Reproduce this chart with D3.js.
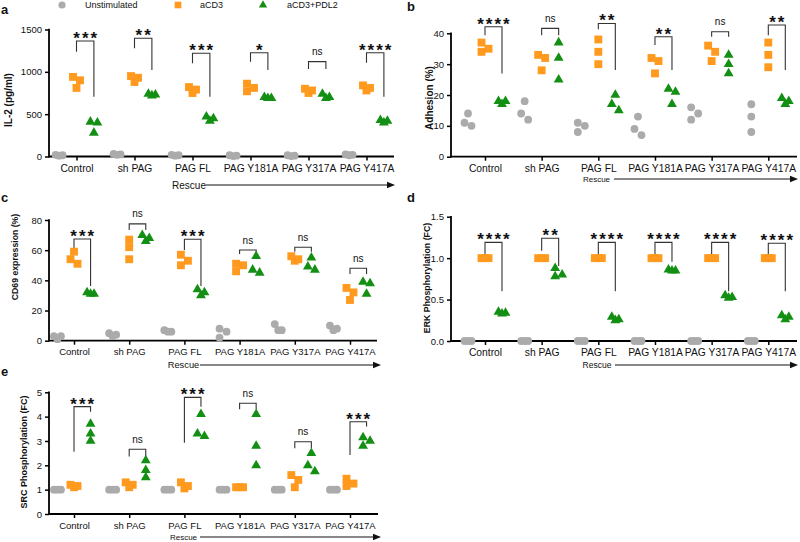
<!DOCTYPE html>
<html><head><meta charset="utf-8">
<script src="https://cdn.jsdelivr.net/npm/d3@7"></script>
<style>
body{margin:0;background:#fff}
svg{display:block}
text{font-family:"Liberation Sans",Arial,Helvetica,sans-serif;fill:#111}
</style></head>
<body><svg id="chart" width="800" height="542"></svg>
<script>
// ---------- data ----------
const categories = ["Control","sh PAG","PAG FL","PAG Y181A","PAG Y317A","PAG Y417A"];
const groups = ["Unstimulated","aCD3","aCD3+PDL2"];

// a: IL-2 (pg/ml)
const il2Unstim = [[15,10,20],[25,30,20],[15,10,20],[10,15,5],[10,5,15],[20,25,15]];
const il2ACD3   = [[940,900,810],[950,930,880],[820,790,750],[860,810,770],[800,780,750],[840,810,780]];
const il2PDL2   = [[410,400,280],[740,730,720],[470,450,420],[700,690,690],[740,700,690],[430,420,400]];
const il2Sig      = ["***","**","***","*","ns","****"];
const il2SigTop   = [1364,1396,1219,1226,1120,1226];
const il2SigLeft  = [1238,1278,1101,1120,1033,1108];
const il2SigRight = [706,1022,706,1022,1033,706];
const il2Ticks = [0,500,1000,1500];

// b: Adhesion (%)
const adhUnstim = [[14,10,11],[18,14,12],[11,10,8],[13,9,7],[16,14,12],[17,13,8]];
const adhACD3   = [[37,35,34],[33,32,28],[38,34,30],[32,31,27],[36,34,31],[37,33,29]];
const adhPDL2   = [[17,18,18],[37,32,25],[20,17,15],[22,21,17],[33,30,27],[19,18,17]];
const adhSig      = ["****","ns","**","**","ns","**"];
const adhSigTop   = [42.1,41.6,43.2,38.9,40.5,42.7];
const adhSigLeft  = [39.4,39.4,41.3,36.2,38.9,39.4];
const adhSigRight = [27.0,39.4,28.1,28.1,38.9,28.1];
const adhTicks = [0,10,20,30,40];

// c: CD69 expression (%)
const cd69Unstim = [[3,3,1],[5,4,3],[7,6,6],[8,6,2],[11,7,7],[10,8,7]];
const cd69ACD3   = [[59,54,51],[67,62,54],[57,53,50],[51,50,46],[56,54,53],[35,32,27]];
const cd69PDL2   = [[32,31,31],[70,68,66],[34,32,30],[56,47,45],[55,49,47],[39,38,31]];
const cd69Sig      = ["***","ns","***","ns","ns","ns"];
const cd69SigTop   = [67.4,77.4,67.2,60.1,61.9,48.0];
const cd69SigLeft  = [60.1,73.4,60.1,57.5,59.0,44.2];
const cd69SigRight = [36.3,73.4,36.3,57.5,59.0,44.2];
const cd69Ticks = [0,20,40,60,80];

// d: ERK Phosphorylation (FC)
const erkUnstim = [[0,0,0],[0,0,0],[0,0,0],[0,0,0],[0,0,0],[0,0,0]];
const erkACD3   = [[1,1,1],[1,1,1],[1,1,1],[1,1,1],[1,1,1],[1,1,1]];
const erkPDL2   = [[0.35,0.34,0.33],[0.88,0.80,0.78],[0.29,0.26,0.25],[0.86,0.85,0.85],[0.55,0.53,0.52],[0.31,0.29,0.26]];
const erkSig      = ["****","**","****","****","****","****"];
const erkSigTop   = [1.19,1.24,1.19,1.19,1.19,1.18];
const erkSigLeft  = [1.04,1.09,1.04,1.04,1.04,1.04];
const erkSigRight = [0.60,0.905,0.60,0.957,0.60,0.60];
const erkTicks = [0,0.5,1.0,1.5];

// e: SRC Phosphorylation (FC)
const srcUnstim = [[1,1,1],[1,1,1],[1,1,1],[1,1,1],[1,1,1],[1,1,1]];
const srcACD3   = [[1.2,1.15,1.1],[1.3,1.2,1.1],[1.3,1.15,1.05],[1.1,1.1,1.1],[1.6,1.4,1.1],[1.45,1.25,1.15]];
const srcPDL2   = [[3.7,3.3,3.0],[2.2,1.8,1.5],[4.1,3.3,3.2],[4.1,2.8,2.0],[2.5,2.0,1.75],[3.15,3.0,2.8]];
const srcSig      = ["***","ns","***","ns","ns","***"];
const srcSigTop   = [4.41,2.66,4.79,4.55,2.97,3.79];
const srcSigLeft  = [2.56,2.36,2.93,4.30,2.70,2.42];
const srcSigRight = [4.20,2.36,4.41,4.30,2.70,3.59];
const srcTicks = [0,1,2,3,4,5];

// ---------- styles / layout ----------
const colors = {"Unstimulated":"#ABABAB","aCD3":"#FF9A1E","aCD3+PDL2":"#138F13"};
const svg = d3.select("#chart");

const panels = [
  {letter:"a", lx:1, ly:14, x0:49, xEnd:394, t0:76.5, t1:366.5, yTop:29.5, yBot:156.5, ticks:il2Ticks, fmt:d3.format("d"),
   title:"IL-2 (pg/ml)", tx:8, ty:100, tfs:10, cfs:10.3, yfs:9.5,
   series:[il2Unstim,il2ACD3,il2PDL2], sig:il2Sig, top:il2SigTop, left:il2SigLeft, right:il2SigRight,
   rescue:{cx:189, y:185, fs:10, x1:206, x2:395}},
  {letter:"b", lx:407, ly:11, x0:451, xEnd:797, t0:485, t1:768.3, yTop:33.3, yBot:156.7, ticks:adhTicks, fmt:d3.format("d"),
   title:"Adhesion (%)", tx:429, ty:98, tfs:10, cfs:10.3, yfs:9.5,
   series:[adhUnstim,adhACD3,adhPDL2], sig:adhSig, top:adhSigTop, left:adhSigLeft, right:adhSigRight,
   rescue:{cx:596.5, y:179, fs:8, x1:614, x2:798}},
  {letter:"c", lx:1, ly:202, x0:49, xEnd:377, t0:74, t1:350, yTop:220, yBot:340.7, ticks:cd69Ticks, fmt:d3.format("d"),
   title:"CD69 expression (%)", tx:15, ty:257, tfs:8.7, cfs:9.5, yfs:9.5,
   series:[cd69Unstim,cd69ACD3,cd69PDL2], sig:cd69Sig, top:cd69SigTop, left:cd69SigLeft, right:cd69SigRight,
   rescue:{cx:183.5, y:365, fs:9.3, x1:200, x2:381}},
  {letter:"d", lx:407, ly:202, x0:451, xEnd:797, t0:485, t1:768.3, yTop:216.7, yBot:341, ticks:erkTicks, fmt:d3.format(".1f"),
   title:"ERK Phosphorylation (FC)", tx:427, ty:278, tfs:8.8, cfs:10.3, yfs:9.5,
   series:[erkUnstim,erkACD3,erkPDL2], sig:erkSig, top:erkSigTop, left:erkSigLeft, right:erkSigRight,
   rescue:{cx:597, y:365, fs:8.5, x1:615, x2:798}},
  {letter:"e", lx:1, ly:376, x0:49, xEnd:378, t0:74, t1:350, yTop:392.3, yBot:514, ticks:srcTicks, fmt:d3.format("d"),
   title:"SRC Phosphorylation (FC)", tx:24, ty:452, tfs:9, cfs:9.5, yfs:9.5,
   series:[srcUnstim,srcACD3,srcPDL2], sig:srcSig, top:srcSigTop, left:srcSigLeft, right:srcSigRight,
   rescue:{cx:183.5, y:537, fs:8, x1:200, x2:381}}
];

const symSquare = d3.symbol().type(d3.symbolSquare).size(62);
const symTri = d3.symbol().type(d3.symbolTriangle).size(42);

function jitter(py){
  const n = py.length, off = Array(n).fill(0);
  const order = d3.range(n).sort((a,b)=>py[a]-py[b]);
  const cand = [-3.5,3.5,0,-7,7];
  const placed = [];
  order.forEach(i=>{
    const hasNb = py.some((y,j)=>j!==i && Math.abs(y-py[i])<7);
    if(hasNb){
      const used = placed.filter(j=>Math.abs(py[j]-py[i])<7).map(j=>off[j]);
      off[i] = cand.find(c=>!used.includes(c));
    }
    placed.push(i);
  });
  return off;
}

panels.forEach(p=>{
  const g = svg.append("g");
  const x = d3.scalePoint().domain(categories).range([p.t0,p.t1]);
  const step = x.step();
  const sub = d3.scalePoint().domain(groups).range([-0.3*step,0.3*step]);
  const y = d3.scaleLinear().domain([0,d3.max(p.ticks)]).range([p.yBot,p.yTop]);

  // panel letter
  svg.append("text").attr("x",p.lx).attr("y",p.ly).attr("font-size",13).attr("font-weight","bold").text(p.letter);

  // y axis
  const ya = g.append("g").attr("transform",`translate(${p.x0},0)`)
    .call(d3.axisLeft(y).tickValues(p.ticks).tickFormat(p.fmt).tickSize(4).tickPadding(3));
  ya.select(".domain").remove();
  ya.selectAll(".tick line").attr("stroke","#000").attr("stroke-width",1.5);
  ya.selectAll(".tick text").attr("font-size",p.yfs).attr("font-family","Liberation Sans, Arial, sans-serif").attr("fill","#111");
  g.append("line").attr("x1",p.x0).attr("x2",p.x0).attr("y1",p.yTop-0.8).attr("y2",p.yBot+0.9)
    .attr("stroke","#000").attr("stroke-width",1.8);

  // x axis
  const xa = g.append("g").attr("transform",`translate(0,${p.yBot})`)
    .call(d3.axisBottom(x).tickSize(4).tickPadding(4));
  xa.select(".domain").remove();
  xa.selectAll(".tick line").attr("stroke","#000").attr("stroke-width",1.5);
  xa.selectAll(".tick text").attr("font-size",p.cfs).attr("font-family","Liberation Sans, Arial, sans-serif").attr("fill","#111");
  g.append("line").attr("x1",p.x0).attr("x2",p.xEnd).attr("y1",p.yBot).attr("y2",p.yBot)
    .attr("stroke","#000").attr("stroke-width",1.8);

  // y title
  g.append("text").attr("transform",`translate(${p.tx},${p.ty}) rotate(-90)`)
    .attr("text-anchor","middle").attr("dy","0.35em").attr("font-size",p.tfs).attr("font-weight","bold").text(p.title);

  // significance brackets
  categories.forEach((c,i)=>{
    const xl = x(c)+sub("aCD3"), xr = x(c)+sub("aCD3+PDL2");
    const yt = y(p.top[i]);
    g.append("path").attr("fill","none").attr("stroke","#333").attr("stroke-width",1.1)
      .attr("d",`M${xl},${y(p.left[i])}V${yt}H${xr}V${y(p.right[i])}`);
    const s = p.sig[i];
    if(s==="ns"){
      g.append("text").attr("x",(xl+xr)/2).attr("y",yt-6.5).attr("text-anchor","middle")
        .attr("font-size",10).attr("fill","#333").text("ns");
    } else {
      g.append("text").attr("x",(xl+xr)/2+1).attr("y",yt+3).attr("text-anchor","middle")
        .attr("font-size",17).attr("font-weight","bold").attr("letter-spacing","2px").attr("fill","#111").text(s);
    }
  });

  // points
  p.series.forEach((ser,gi)=>{
    const grp = groups[gi];
    categories.forEach((c,i)=>{
      const vals = ser[i];
      const py = vals.map(v=>y(v));
      const off = jitter(py);
      vals.forEach((v,k)=>{
        const cx = x(c)+sub(grp)+off[k], cy = py[k];
        if(gi===0){
          g.append("circle").attr("cx",cx).attr("cy",cy).attr("r",3.9).attr("fill",colors[grp]);
        } else if(gi===1){
          g.append("path").attr("d",symSquare()).attr("transform",`translate(${cx},${cy})`).attr("fill",colors[grp]);
        } else {
          g.append("path").attr("d",symTri()).attr("transform",`translate(${cx},${cy})`).attr("fill",colors[grp]);
        }
      });
    });
  });

  // rescue arrow
  const r = p.rescue;
  g.append("text").attr("x",r.cx).attr("y",r.y).attr("dy","0.35em").attr("text-anchor","middle")
    .attr("font-size",r.fs).text("Rescue");
  g.append("line").attr("x1",r.x1).attr("x2",r.x2-6).attr("y1",r.y).attr("y2",r.y).attr("stroke","#111").attr("stroke-width",1);
  g.append("path").attr("d",`M${r.x2-8},${r.y-3.2}L${r.x2},${r.y}L${r.x2-8},${r.y+3.2}Z`).attr("fill","#111");
});

// legend
const legY = 5;
const legend = [
  {g:"Unstimulated", mx:62, tx:85},
  {g:"aCD3", mx:178, tx:200},
  {g:"aCD3+PDL2", mx:263, tx:287}
];
legend.forEach((l,i)=>{
  if(i===0) svg.append("circle").attr("cx",l.mx).attr("cy",legY).attr("r",3.6).attr("fill",colors[l.g]);
  else if(i===1) svg.append("path").attr("d",symSquare.size(44)()).attr("transform",`translate(${l.mx},${legY})`).attr("fill",colors[l.g]);
  else svg.append("path").attr("d",symTri.size(30)()).attr("transform",`translate(${l.mx},${legY})`).attr("fill",colors[l.g]);
  svg.append("text").attr("x",l.tx).attr("y",legY).attr("dy","0.35em").attr("font-size",9).text(l.g);
});
</script></body></html>
